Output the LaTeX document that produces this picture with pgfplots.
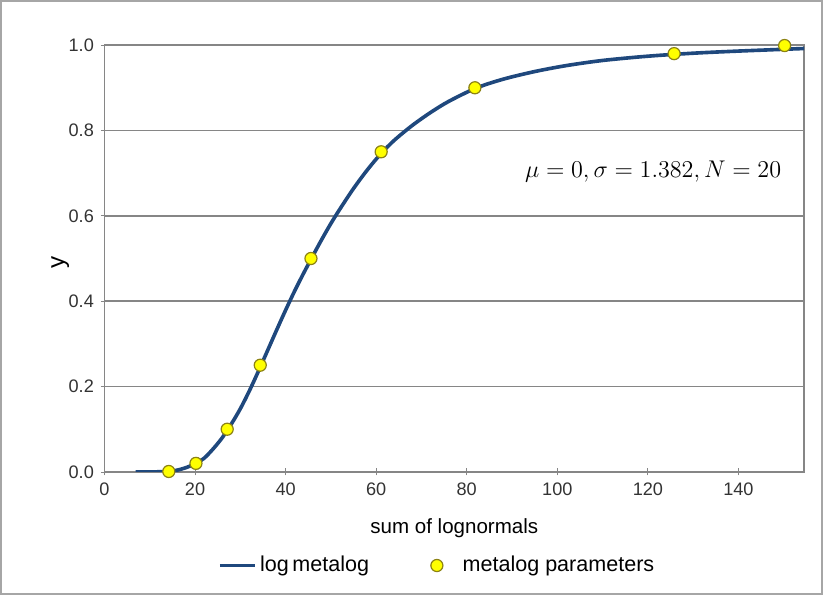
\documentclass[border=0pt]{standalone}
\usepackage{pgfplots}
\pgfplotsset{compat=1.18}
\usepackage{fontspec}
\setmainfont{Liberation Sans}
\definecolor{curveblue}{RGB}{31,72,125}
\definecolor{ptfill}{RGB}{255,255,0}
\definecolor{ptedge}{RGB}{140,130,20}
\definecolor{gridgray}{RGB}{134,134,134}
\pgfplotsset{ptlegend/.style={legend image code/.code={%
    \path[draw=none, fill=none] (-0.1cm,0cm) rectangle (0.55cm,0cm);
    \draw[##1] plot coordinates {(0.17cm,0cm)};}}}

\begin{document}
\begin{tikzpicture}
\begin{axis}[
    scale only axis, width=347.5pt, height=212pt,
    xmin=0, xmax=154.5, ymin=0, ymax=1,
    xtick={0,20,...,140}, ytick={0,0.2,...,1.0},
    yticklabel style={/pgf/number format/.cd, fixed, fixed zerofill, precision=1},
    /pgf/number format/assume math mode=true,
    ticklabel style={font=\fontsize{9}{10}\selectfont, text=black!80},
    tick pos=left, tick align=center, major tick length=3.5pt,
    tick style={gridgray, thin},
    axis line style={gridgray, line width=0.8pt},
    ymajorgrids, grid style={gridgray, line width=0.7pt},
    xlabel={sum of lognormals},
    ylabel={y},
    xlabel style={font=\fontsize{10.2}{12}\selectfont, at={(axis description cs:0.5,0)}, anchor=center, yshift=-28pt},
    ylabel style={font=\fontsize{12}{13}\selectfont, at={(axis description cs:-0.0633,0.49)}, anchor=center},
    legend columns=2,
    legend style={draw=none, fill=none, font=\fontsize{10.7}{12}\selectfont,
        at={(axis description cs:0.5,0)}, anchor=center, yshift=-46.5pt, xshift=-8pt,
        /tikz/every even column/.append style={column sep=24pt}},
    legend cell align=left,
]
\addplot[curveblue, line width=1.8pt, smooth] coordinates {
    (6.9,0) (10,0.0) (12,0.0003) (14,0.001) (16,0.004) (18,0.01) (20.2,0.02)
    (22,0.032) (24,0.054) (26,0.08) (28,0.112) (30,0.148) (32,0.19)
    (34,0.236) (36,0.284) (38,0.332) (40,0.379) (42,0.424) (44,0.466)
    (46,0.506) (48,0.545) (50,0.582) (52,0.616) (55,0.664) (58,0.707)
    (61,0.745) (64,0.777) (68,0.812) (72,0.842) (76,0.868) (82,0.899)
    (88,0.92) (95,0.938) (102,0.952) (110,0.964) (120,0.974) (130,0.981)
    (140,0.986) (154.5,0.992)
};
\addlegendentry{log\,metalog}
\addplot[only marks, mark=*, mark size=3pt, mark options={fill=ptfill, draw=ptedge, line width=0.6pt}, ptlegend] coordinates {
    (14.2,0.001) (20.2,0.02) (27.1,0.1) (34.4,0.25) (45.6,0.5)
    (61.1,0.75) (81.8,0.9) (125.8,0.98) (150.2,0.999)
};
\addlegendentry{metalog parameters}
\node[anchor=east, font=\fontsize{12}{14}\selectfont] at (axis cs:151,0.703) {$\mu = 0, \sigma = 1.382, N = 20$};
\end{axis}
\draw[gray!70, line width=0.8pt] (-51.5pt,-60.5pt) rectangle (356.5pt,234pt);
\end{tikzpicture}
\end{document}
